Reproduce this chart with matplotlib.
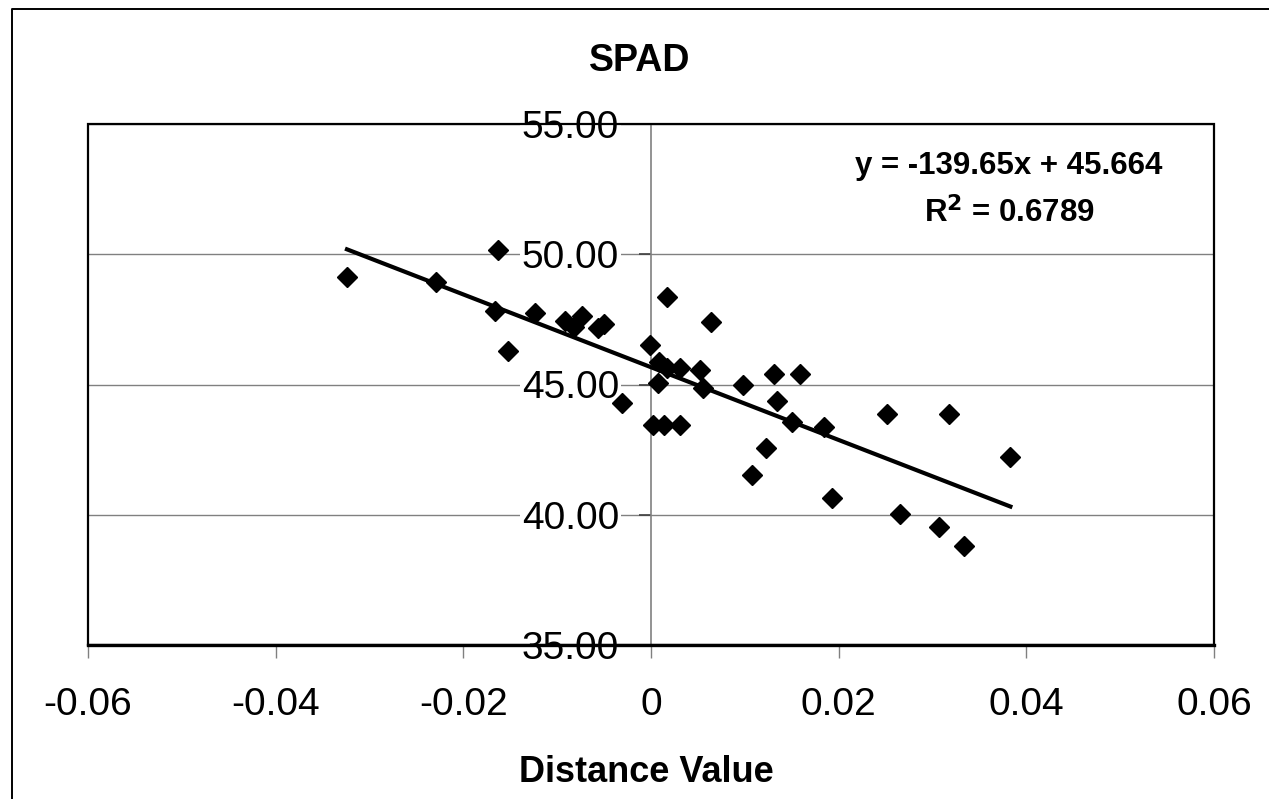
import matplotlib
matplotlib.use("Agg")
import matplotlib.pyplot as plt
from matplotlib.lines import Line2D
from matplotlib.patches import Rectangle
import numpy as np

plt.rcParams['font.family'] = ['Liberation Sans', 'DejaVu Sans']

# ---- data ----
distance = [-0.0324, -0.0229, -0.0163, -0.0166, -0.0152, -0.0124, -0.0092, -0.0074,
            -0.0082, -0.0056, -0.0050, -0.0031, 0.0017, -0.0001, 0.0008, 0.0017,
            0.0031, 0.0007, 0.0002, 0.0014, 0.0031, 0.0052, 0.0055, 0.0064,
            0.0098, 0.0131, 0.0159, 0.0134, 0.0150, 0.0184, 0.0252, 0.0318,
            0.0123, 0.0108, 0.0193, 0.0265, 0.0307, 0.0334, 0.0383]
spad = [49.14, 48.95, 50.16, 47.83, 46.29, 47.76, 47.44, 47.63,
        47.22, 47.16, 47.31, 44.28, 48.34, 46.51, 45.88, 45.65,
        45.62, 45.07, 43.45, 43.45, 43.46, 45.54, 44.85, 47.41,
        44.98, 45.39, 45.39, 44.38, 43.55, 43.38, 43.87, 43.87,
        42.55, 41.53, 40.63, 40.02, 39.52, 38.80, 42.23]

slope = -139.65
intercept = 45.664
r_squared = 0.6789

x_ticks = [-0.06, -0.04, -0.02, 0, 0.02, 0.04, 0.06]
x_tick_labels = ['-0.06', '-0.04', '-0.02', '0', '0.02', '0.04', '0.06']
y_ticks = [35, 40, 45, 50, 55]
y_tick_labels = ['35.00', '40.00', '45.00', '50.00', '55.00']

title = 'SPAD'
x_label = 'Distance Value'

# ---- figure ----
W, H = 1269, 799
fig = plt.figure(figsize=(W / 100, H / 100), dpi=100)
ax = fig.add_axes([88 / W, 1 - 645 / H, (1214 - 88) / W, (645 - 124) / H])
ax.set_xlim(-0.06, 0.06)
ax.set_ylim(35, 55)

# gridlines
ax.set_axisbelow(True)
ax.yaxis.grid(True, color='#808080', linewidth=1.0)
ax.xaxis.grid(False)

# spines
for s in ['top', 'right', 'bottom']:
    ax.spines[s].set_visible(False)
ax.spines['left'].set_position(('data', 0))
ax.spines['left'].set_color('#808080')
ax.spines['left'].set_linewidth(1.2)

# plot-area border
ax.add_patch(Rectangle((0, 0), 1, 1, transform=ax.transAxes, fill=False,
                       edgecolor='black', linewidth=1.6, zorder=3, clip_on=False))
ax.plot([0, 1], [0, 0], transform=ax.transAxes, color='black', linewidth=2.4,
        zorder=3, clip_on=False)

# ticks
ax.set_xticks(x_ticks)
ax.set_xticklabels(x_tick_labels)
ax.set_yticks(y_ticks)
ax.set_yticklabels(y_tick_labels)
ax.tick_params(axis='x', direction='out', length=9, width=1.0, color='#808080',
               labelsize=28, pad=21)
ax.tick_params(axis='y', direction='out', length=9, width=1.2, color='#404040',
               labelsize=28, pad=14)
for lbl in ax.get_yticklabels():
    lbl.set_bbox(dict(facecolor='white', edgecolor='none', pad=1.0))

# trendline
x_line = np.array([min(distance), max(distance)])
ax.plot(x_line, slope * x_line + intercept, color='black', linewidth=3.0, zorder=4)

# data points
ax.plot(distance, spad, linestyle='none', marker='D', markersize=10.5,
        color='black', zorder=5)

# equation text
ax.text(1009 / W, 1 - 166 / H,
        'y = %.2fx + %.3f' % (slope, intercept),
        transform=fig.transFigure, ha='center', va='center',
        fontsize=22.5, fontweight='bold')
ax.text(1009 / W, 1 - 213 / H,
        r'R$^{\mathbf{2}}$ = %.4f' % r_squared,
        transform=fig.transFigure, ha='center', va='center',
        fontsize=22.5, fontweight='bold')

# titles
fig.text(640 / W, 1 - 61 / H, title, ha='center', va='center',
         fontsize=27, fontweight='bold')
fig.text(646 / W, 1 - 772 / H, x_label, ha='center', va='center',
         fontsize=26, fontweight='bold')

# outer chart border
fig.add_artist(Line2D([12 / W, 12 / W, 1.01], [-0.01, 1 - 9 / H, 1 - 9 / H],
                      transform=fig.transFigure, color='black', linewidth=1.4))

fig.savefig('out.png', dpi=100, facecolor='white')
